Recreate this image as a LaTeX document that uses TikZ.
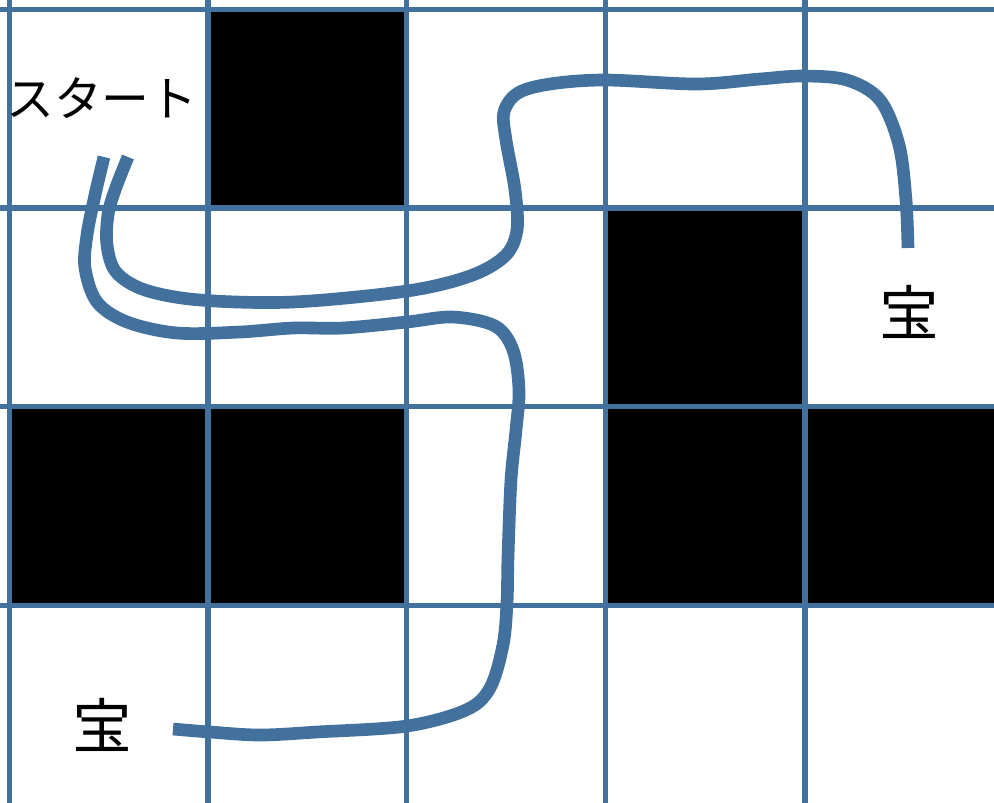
\documentclass[tikz,border=0pt]{standalone}
\usepackage{fontspec}
\newfontfamily\cjk{Noto Sans CJK JP}
\definecolor{gridblue}{RGB}{66,113,157}
\tikzset{
  gridline/.style={draw=gridblue, line width=1.6pt},
  route/.style={draw=gridblue, line width=3.6pt, line join=round},
  wall/.style={fill=black},
  label/.style={inner sep=0pt, font=\cjk}
}
\begin{document}
\begin{tikzpicture}[x=0.01cm, y=-0.01cm]
\useasboundingbox (0,0) rectangle (994,802);
\clip (0,0) rectangle (994,802);
\fill[white] (0,0) rectangle (994,802);
% walls
\fill[wall] (208,9.5) rectangle (406.5,208);
\fill[wall] (605.5,208) rectangle (805,406.5);
\fill[wall] (9.5,406.5) rectangle (208,605.5);
\fill[wall] (208,406.5) rectangle (406.5,605.5);
\fill[wall] (605.5,406.5) rectangle (805,605.5);
\fill[wall] (805,406.5) rectangle (1004,605.5);
% grid
\foreach \gx in {9.5,208,406.5,605.5,805,1004}
  \draw[gridline] (\gx,-10) -- (\gx,820);
\foreach \gy in {9.5,208,406.5,605.5,806}
  \draw[gridline] (-10,\gy) -- (1010,\gy);
% labels
\node[label, font=\cjk\fontsize{13.6pt}{16pt}\selectfont] (start) at (102,98) {スタート};
\node[label, font=\cjk\fontsize{17pt}{20pt}\selectfont] (goalA) at (909,312) {宝};
\node[label, font=\cjk\fontsize{17pt}{20pt}\selectfont] (goalB) at (102,725) {宝};
% route to right treasure
\draw[route] plot[smooth, tension=0.55] coordinates {
  (128,157) (115,190) (108,215) (107,245) (116,272) (145,290) (200,300) (293,302)
  (407,291) (470,276) (505,256) (517,230) (515,190) (506,140) (504,112) (518,93)
  (550,84) (605,80) (697,84) (760,79) (803,76) (847,80) (880,100) (899,145)
  (906,200) (908,248)};
% route to lower treasure
\draw[route] plot[smooth, tension=0.55] coordinates {
  (104,157) (95,195) (87,235) (85,268) (97,302) (127,322) (177,333) (240,332)
  (293,328) (343,328) (407,322) (453,317) (495,326) (513,350) (519,390) (516,430)
  (511,480) (508,557) (507,603) (503,645) (490,688) (466,710) (407,726)
  (317,732) (260,735) (210,732) (173,729)};
\end{tikzpicture}
\end{document}
